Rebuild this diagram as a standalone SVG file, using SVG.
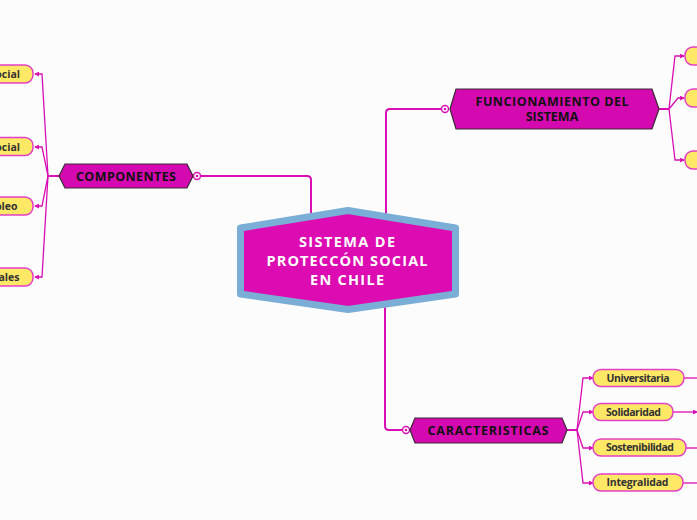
<svg xmlns="http://www.w3.org/2000/svg" width="697" height="520" viewBox="0 0 697 520">
<defs>
<style>
.bg{fill:#fcfcfc}
.conn{fill:none;stroke:#d80fb4;stroke-width:2}
.br{fill:none;stroke:#d80fb4;stroke-width:1.3}
.ring{fill:#fff;stroke:#d80fb4;stroke-width:1.4}
.dot{fill:#d80fb4}
.hex{fill:#d40ab0;stroke:#3a2a35;stroke-width:1.2}
.yel{fill:#ffe866;stroke:#e33fc6;stroke-width:1.5}
.t1{font-family:"Open Sans","Liberation Sans",sans-serif;font-weight:700;font-size:12.5px;fill:#111;text-anchor:middle}
.tc{font-family:"Open Sans","Liberation Sans",sans-serif;font-weight:700;font-size:14.5px;fill:#fff;text-anchor:middle}
.ty{font-family:"Open Sans","Liberation Sans",sans-serif;font-weight:700;font-size:10.5px;fill:#333;text-anchor:middle}
.tl{font-family:"Open Sans","Liberation Sans",sans-serif;font-weight:700;font-size:10.5px;fill:#333;text-anchor:end}
</style>
<marker id="ar" viewBox="0 0 6 6" refX="5" refY="3" markerWidth="5" markerHeight="5" orient="auto" markerUnits="userSpaceOnUse">
<path d="M0,0 L6,3 L0,6 Z" fill="#d80fb4"/>
</marker>
</defs>
<rect class="bg" x="0" y="0" width="697" height="520"/>
<g id="connectors">
<path class="conn" d="M200.5,176 H307 Q311,176 311,180 V220"/>
<path class="conn" d="M441.5,109 H390 Q386,109 386,113 V220"/>
<path class="conn" d="M385,300 V426 Q385,430 389,430 H402.5"/>
<circle class="ring" cx="197" cy="176" r="3.5"/><circle class="dot" cx="197" cy="176" r="1.3"/>
<circle class="ring" cx="445" cy="109" r="3.5"/><circle class="dot" cx="445" cy="109" r="1.3"/>
<circle class="ring" cx="406" cy="430" r="3.5"/><circle class="dot" cx="406" cy="430" r="1.3"/>
<path class="conn" d="M59,176 H48"/>
<path class="br" d="M48,176 L42,74 H35" marker-end="url(#ar)"/>
<path class="br" d="M48,176 L42,147 H35" marker-end="url(#ar)"/>
<path class="br" d="M48,176 L42,206 H35" marker-end="url(#ar)"/>
<path class="br" d="M48,176 L42,277 H35" marker-end="url(#ar)"/>
<path class="conn" d="M659,109 H669"/>
<path class="br" d="M669,109 L675,56 H684" marker-end="url(#ar)"/>
<path class="br" d="M669,109 L678,98 H684" marker-end="url(#ar)"/>
<path class="br" d="M669,109 L675,160 H684" marker-end="url(#ar)"/>
<path class="conn" d="M567,430 H577"/>
<path class="br" d="M577,430 L583,378 H593" marker-end="url(#ar)"/>
<path class="br" d="M577,430 L583,412 H593" marker-end="url(#ar)"/>
<path class="br" d="M577,430 L583,448 H593" marker-end="url(#ar)"/>
<path class="br" d="M577,430 L583,483 H593" marker-end="url(#ar)"/>
<path class="br" d="M684,378 H697"/>
<path class="br" d="M673,412 H697" marker-end="url(#ar)"/>
<path class="br" d="M686,448 H697"/>
<path class="br" d="M683,483 H697"/>
</g>
<g id="central">
<path d="M240.5,228 L348,210.5 L455.5,228 L455.5,294 L348,309.5 L240.5,294 Z" fill="#dc0bb2" stroke="#7aaed6" stroke-width="7" stroke-linejoin="round"/>
<text class="tc" x="347" y="247" textLength="96" lengthAdjust="spacing">SISTEMA DE</text>
<text class="tc" x="347" y="266" textLength="161" lengthAdjust="spacing">PROTECCÓN SOCIAL</text>
<text class="tc" x="347" y="285" textLength="74" lengthAdjust="spacing">EN CHILE</text>
</g>
<g id="componentes">
<path class="hex" d="M59,176 L65,164 H187 L193,176 L187,188 H65 Z"/>
<text class="t1" x="126" y="181" textLength="100" lengthAdjust="spacing">COMPONENTES</text>
</g>
<g id="funcionamiento">
<path class="hex" d="M450,109 L456,89 H652 L659,109 L652,129 H456 Z"/>
<text class="t1" x="552" y="106" font-size="12" textLength="153" lengthAdjust="spacing">FUNCIONAMIENTO DEL</text>
<text class="t1" x="552" y="121" font-size="12">SISTEMA</text>
</g>
<g id="caracteristicas">
<path class="hex" d="M410,430 L415,418 H562 L567,430 L562,443 H415 Z"/>
<text class="t1" x="488" y="435" textLength="121" lengthAdjust="spacing">CARACTERISTICAS</text>
</g>
<g id="comp1"><rect class="yel" x="-20" y="65" width="53" height="18" rx="8"/><text class="tl" x="20" y="78">ocial</text></g>
<g id="comp2"><rect class="yel" x="-20" y="137.5" width="53" height="18" rx="8"/><text class="tl" x="20" y="150.5">ocial</text></g>
<g id="comp3"><rect class="yel" x="-20" y="197" width="53" height="18" rx="8"/><text class="tl" x="17.5" y="210">pleo</text></g>
<g id="comp4"><rect class="yel" x="-20" y="268" width="53" height="18" rx="8"/><text class="tl" x="19.5" y="281">ales</text></g>
<g id="func1"><rect class="yel" x="685" y="47" width="40" height="18" rx="8"/></g>
<g id="func2"><rect class="yel" x="685" y="89" width="40" height="18" rx="8"/></g>
<g id="func3"><rect class="yel" x="685" y="151" width="40" height="18" rx="8"/></g>
<g id="universitaria"><rect class="yel" x="593" y="369.5" width="91" height="17" rx="8"/><text class="ty" x="638" y="381.5" textLength="63" lengthAdjust="spacing">Universitaria</text></g>
<g id="solidaridad"><rect class="yel" x="593" y="403.5" width="80" height="17" rx="8"/><text class="ty" x="633.5" y="415.5" textLength="55" lengthAdjust="spacing">Solidaridad</text></g>
<g id="sostenibilidad"><rect class="yel" x="593" y="439" width="93" height="17" rx="8"/><text class="ty" x="640" y="451" textLength="68" lengthAdjust="spacing">Sostenibilidad</text></g>
<g id="integralidad"><rect class="yel" x="593" y="474" width="90" height="17" rx="8"/><text class="ty" x="637.5" y="486" textLength="62" lengthAdjust="spacing">Integralidad</text></g>
</svg>
